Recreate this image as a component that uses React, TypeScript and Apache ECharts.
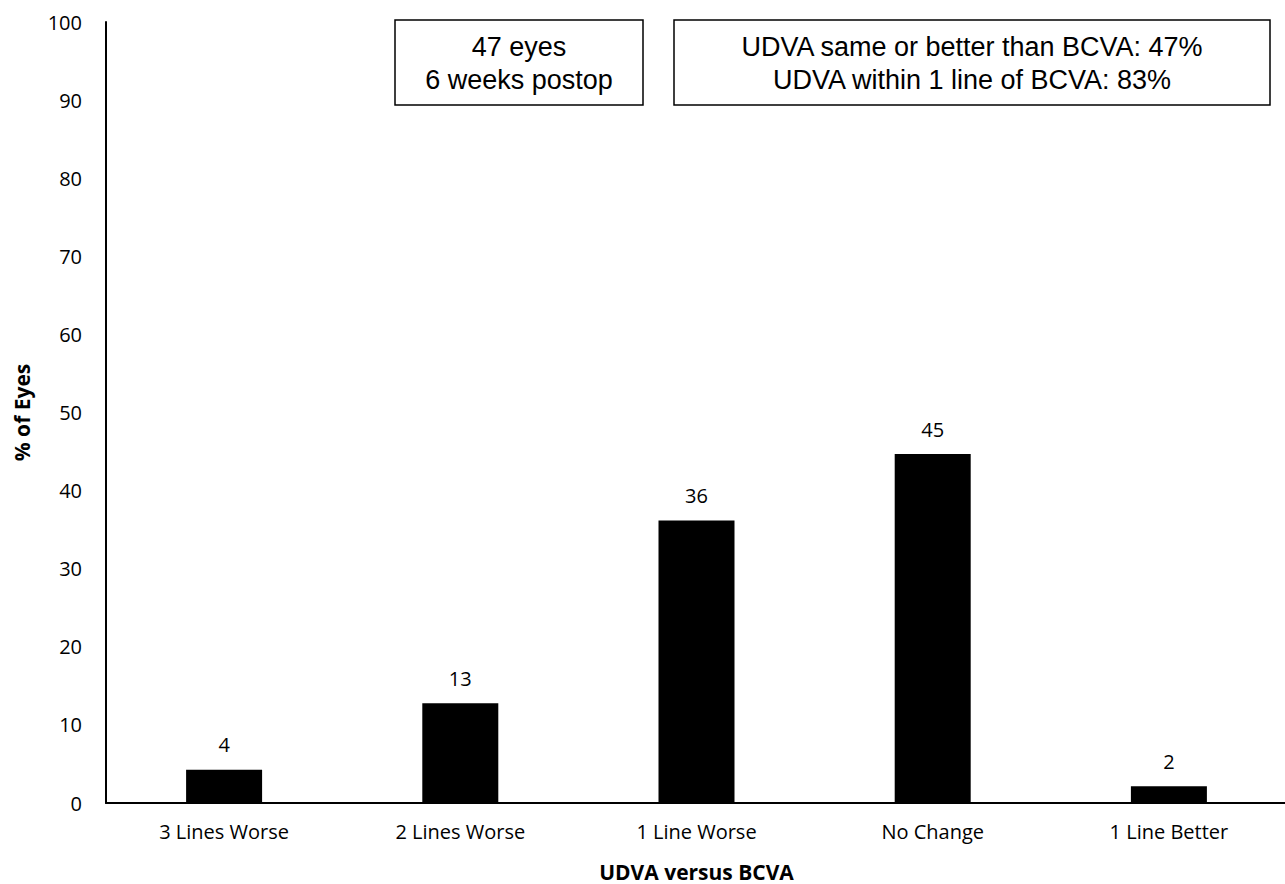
import React, { useEffect, useRef } from "react";
import * as echarts from "echarts";

const categories = ["3 Lines Worse", "2 Lines Worse", "1 Line Worse", "No Change", "1 Line Better"];
const percentEyes = [4.26, 12.77, 36.17, 44.68, 2.13];
const infoBox1 = ["47 eyes", "6 weeks postop"];
const infoBox2 = ["UDVA same or better than BCVA: 47%", "UDVA within 1 line of BCVA: 83%"];

const labelFont = "'Open Sans', 'Noto Sans', sans-serif";
const boxFont = "'Liberation Sans', Arial, sans-serif";

export default function App() {
  const ref = useRef<HTMLDivElement>(null);
  useEffect(() => {
    if (!ref.current) return;
    const chart = echarts.init(ref.current, null, { renderer: "svg" });
    chart.setOption({
      animation: false,
      backgroundColor: "#ffffff",
      grid: {
        left: 106,
        right: -2,
        top: 22,
        bottom: 81,
        containLabel: false,
        outerBoundsMode: "none",
      },
      xAxis: {
        type: "category",
        data: categories,
        axisLine: { show: true, lineStyle: { color: "#000", width: 2 } },
        axisTick: { show: false },
        axisLabel: { color: "#000", fontSize: 20, fontFamily: labelFont, margin: 18 },
        name: "UDVA versus BCVA",
        nameLocation: "middle",
        nameGap: 58,
        nameTextStyle: {
          color: "#000",
          fontSize: 21,
          fontWeight: "bold",
          fontFamily: labelFont,
          lineHeight: 21,
        },
      },
      yAxis: {
        type: "value",
        min: 0,
        max: 100,
        interval: 10,
        splitLine: { show: false },
        axisLine: { show: true, lineStyle: { color: "#000", width: 2 } },
        axisTick: { show: false },
        axisLabel: { color: "#000", fontSize: 20, fontFamily: labelFont, margin: 24 },
        name: "% of Eyes",
        nameLocation: "middle",
        nameGap: 74,
        nameTextStyle: { color: "#000", fontSize: 21, fontWeight: "bold", fontFamily: labelFont },
      },
      series: [
        {
          type: "bar",
          data: percentEyes,
          barWidth: 76,
          itemStyle: { color: "#000" },
          label: {
            show: true,
            position: "top",
            distance: 15,
            color: "#000",
            fontSize: 20,
            fontFamily: labelFont,
            formatter: (p: any) => String(Math.round(p.value)),
          },
        },
      ],
      graphic: [
        {
          type: "rect",
          shape: { x: 395, y: 20, width: 248, height: 85 },
          style: { fill: "#fff", stroke: "#000", lineWidth: 1.5 },
        },
        {
          type: "text",
          x: 519,
          y: 63,
          style: {
            text: infoBox1.join("\n"),
            font: `27px ${boxFont}`,
            fill: "#000",
            align: "center",
            verticalAlign: "middle",
            lineHeight: 33,
          },
        },
        {
          type: "rect",
          shape: { x: 674, y: 20, width: 596, height: 85 },
          style: { fill: "#fff", stroke: "#000", lineWidth: 1.5 },
        },
        {
          type: "text",
          x: 972,
          y: 63,
          style: {
            text: infoBox2.join("\n"),
            font: `27px ${boxFont}`,
            fill: "#000",
            align: "center",
            verticalAlign: "middle",
            lineHeight: 33,
          },
        },
      ],
    });
    return () => chart.dispose();
  }, []);
  return (
    <div
      ref={ref}
      style={{ position: "absolute", left: 0, top: 0, width: 1285, height: 884 }}
    />
  );
}
